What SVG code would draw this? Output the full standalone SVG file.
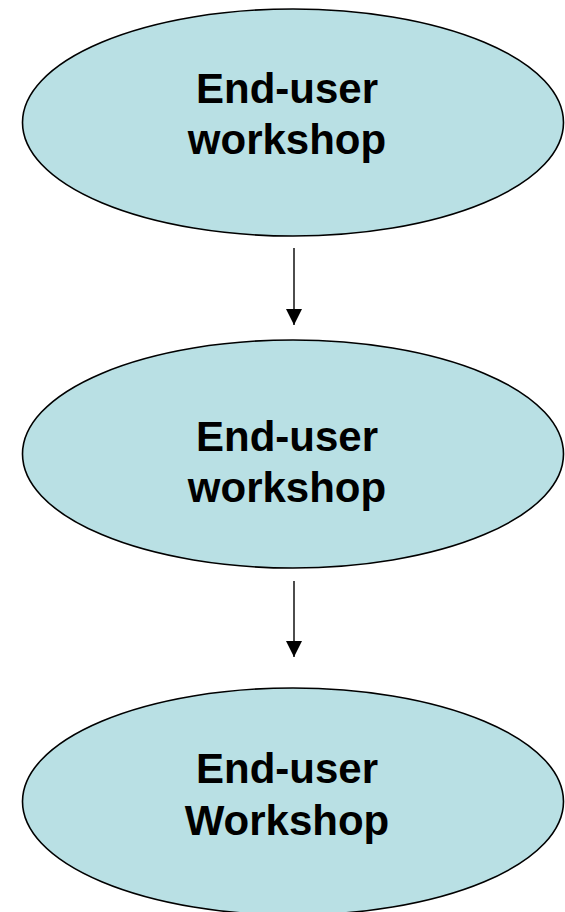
<svg xmlns="http://www.w3.org/2000/svg" width="565" height="912" viewBox="0 0 565 912">
  <style>
    .node ellipse { fill: #b9e0e4; stroke: #000; stroke-width: 1.6; }
    .node text { font-family: "Liberation Sans", Arial, sans-serif; font-weight: bold; font-size: 42px; fill: #000; text-anchor: middle; }
    .edge { stroke: #000; stroke-width: 1.4; fill: none; marker-end: url(#arrow); }
  </style>
  <defs>
    <marker id="arrow" viewBox="0 0 16 16" refX="16" refY="8" markerWidth="16" markerHeight="16" markerUnits="userSpaceOnUse" orient="auto">
      <path d="M0,0 L16,8 L0,16 Z" fill="#000"/>
    </marker>
  </defs>
  <rect width="565" height="912" fill="#fff"/>

  <g id="connectors">
    <line class="edge" x1="294" y1="248" x2="294" y2="325"/>
    <line class="edge" x1="294" y1="581" x2="294" y2="657"/>
  </g>

  <g id="workshop-1" class="node">
    <ellipse cx="293" cy="122.5" rx="270.5" ry="113.5"/>
    <text x="287" y="103">End-user</text>
    <text x="287" y="154">workshop</text>
  </g>

  <g id="workshop-2" class="node">
    <ellipse cx="293" cy="454" rx="270.5" ry="114"/>
    <text x="287" y="451">End-user</text>
    <text x="287" y="502">workshop</text>
  </g>

  <g id="workshop-3" class="node">
    <ellipse cx="293" cy="801.5" rx="270.5" ry="113.5"/>
    <text x="287" y="783">End-user</text>
    <text x="287" y="835">Workshop</text>
  </g>
</svg>
